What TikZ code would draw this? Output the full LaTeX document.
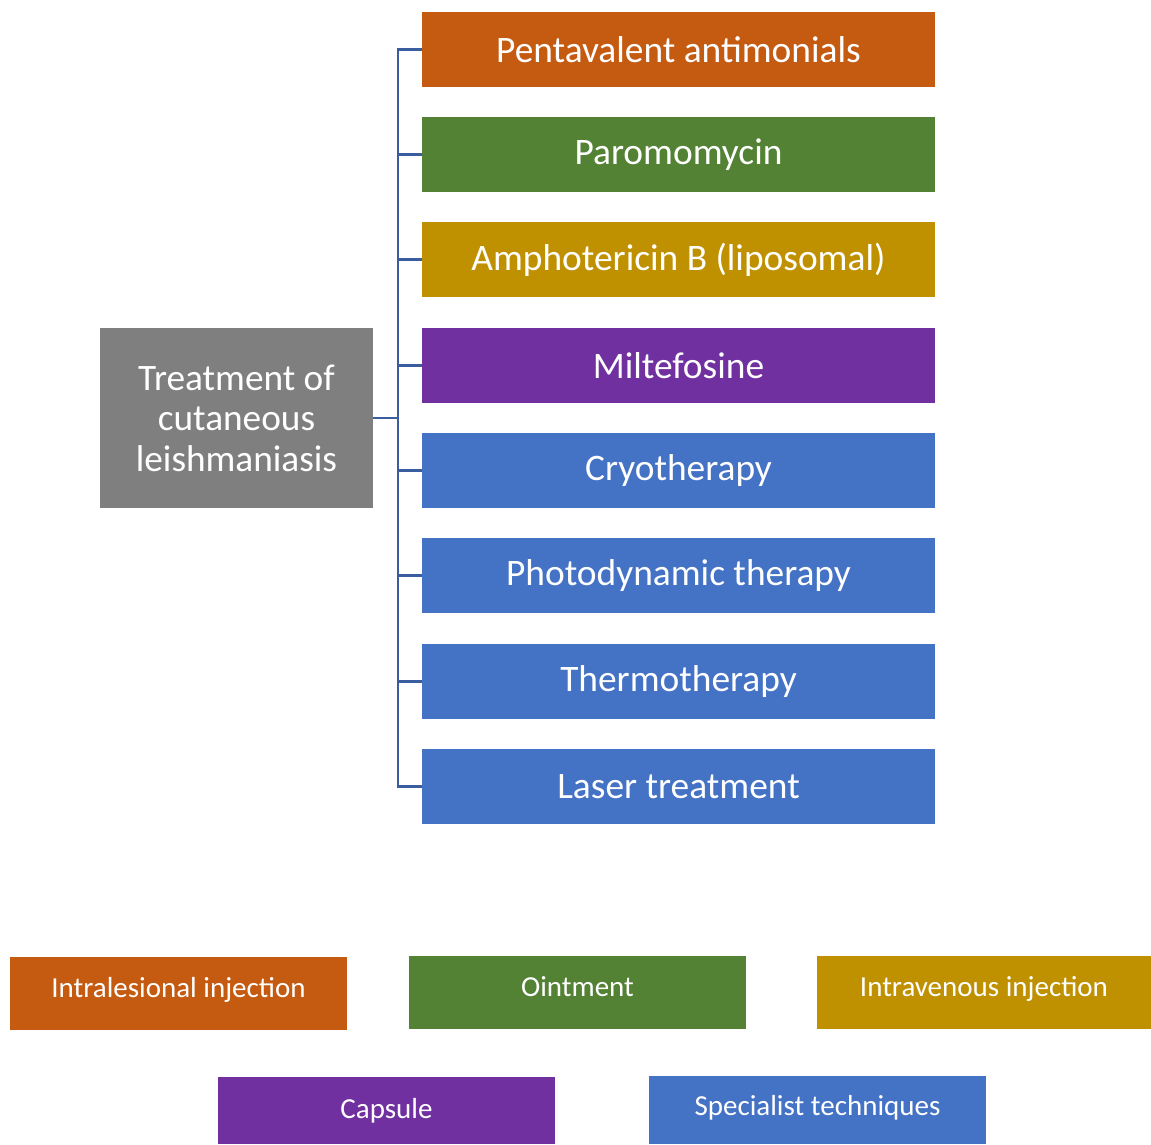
\documentclass[tikz,border=0pt]{standalone}
\usepackage{fontspec}
\setmainfont{Carlito}
\definecolor{corange}{HTML}{C55A11}
\definecolor{cgreen}{HTML}{548235}
\definecolor{cgold}{HTML}{BF9000}
\definecolor{cpurple}{HTML}{7030A0}
\definecolor{cblue}{HTML}{4472C4}
\definecolor{cgray}{HTML}{7F7F7F}
\definecolor{cline}{HTML}{3A5DA0}
\begin{document}
\begin{tikzpicture}[x=1pt,y=-1pt,
  treebox/.style={rectangle,inner sep=0pt,minimum width=513pt,minimum height=75pt,text=white,font=\fontsize{37.4}{42}\selectfont},
  legbox/.style={rectangle,inner sep=0pt,minimum width=337pt,minimum height=73pt,text=white,font=\fontsize{29}{33}\selectfont},
  conn/.style={draw=cline,line width=2.8pt}]
\useasboundingbox (0,0) rectangle (1151,1144);
\node[rectangle,fill=cgray,inner sep=0pt,minimum width=273pt,minimum height=180pt,text=white,align=center,font=\fontsize{37.3}{40.5}\selectfont] (root) at (236.5,418) {Treatment of\\cutaneous\\leishmaniasis};
\node[treebox,fill=corange] (b1) at (678.5,49.5) {Pentavalent antimonials};
\node[treebox,fill=cgreen] (b2) at (678.5,154.5) {Paromomycin};
\node[treebox,fill=cgold] (b3) at (678.5,259.5) {Amphotericin B (liposomal)};
\node[treebox,fill=cpurple] (b4) at (678.5,365.5) {Miltefosine};
\node[treebox,fill=cblue] (b5) at (678.5,470.5) {Cryotherapy};
\node[treebox,fill=cblue] (b6) at (678.5,575.5) {Photodynamic therapy};
\node[treebox,fill=cblue] (b7) at (678.5,681.5) {Thermotherapy};
\node[treebox,fill=cblue] (b8) at (678.5,786.5) {Laser treatment};
\coordinate (j) at (398,418);
\draw[conn] (root.east) -- (j);
\foreach \i in {1,...,8}{
  \draw[conn] (j) |- (b\i.west);
}
\node[legbox,fill=corange] (l1) at (178.5,993.5) {\raisebox{12pt}{Intralesional injection}};
\node[legbox,fill=cgreen] (l2) at (577.5,992.5) {\raisebox{12pt}{Ointment}};
\node[legbox,fill=cgold,minimum width=334pt] (l3) at (984,992.5) {\raisebox{12pt}{Intravenous injection}};
\node[legbox,fill=cpurple,minimum height=67pt] (l4) at (386.5,1110.5) {\raisebox{5pt}{Capsule}};
\node[legbox,fill=cblue,minimum height=68pt] (l5) at (817.5,1110) {\raisebox{9pt}{Specialist techniques}};
\end{tikzpicture}
\end{document}
